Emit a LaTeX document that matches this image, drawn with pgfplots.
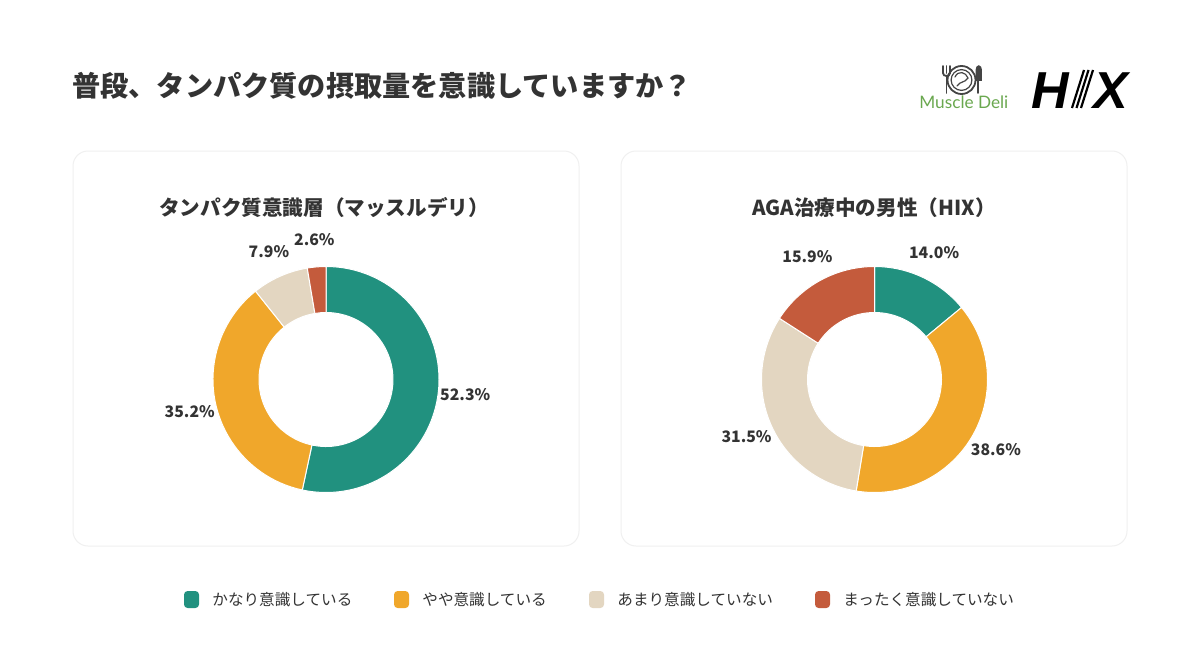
\documentclass[border=0pt]{standalone}
\usepackage{pgfplots}
\pgfplotsset{compat=1.18}
\usepackage{pgfplotstable}
\usepackage{fontspec}
\setmainfont{Noto Sans CJK JP}
\newfontfamily\latinlogo{Lato}
\newfontfamily\hixfont{Liberation Sans}

\definecolor{cTeal}{HTML}{21917F}
\definecolor{cOrange}{HTML}{F0A72B}
\definecolor{cBeige}{HTML}{E3D6C1}
\definecolor{cRed}{HTML}{C45B3C}
\definecolor{txt}{HTML}{333333}
\definecolor{cardline}{HTML}{F0F0F0}
\definecolor{mdgreen}{HTML}{6AA84F}
\definecolor{icon}{HTML}{444444}

% survey shares (percent) for each group
\pgfplotstableread{
answer value color
1 52.3 cTeal
2 35.2 cOrange
3 7.9  cBeige
4 2.6  cRed
}\tabMuscle
\pgfplotstableread{
answer value color
1 14.0 cTeal
2 38.6 cOrange
3 31.5 cBeige
4 15.9 cRed
}\tabHix

\tikzset{
  pct/.style={font=\bfseries\fontsize{7.9pt}{10pt}\selectfont, text=txt, inner sep=0pt},
  sep/.style={draw=white, line width=0.5pt, line join=round},
}

% donut: #1 table, #2 centre x, #3 centre y (axis units, 1 unit = 0.5pt)
% outer radius 113, inner radius 67, labels at radius 140
\newcommand\drawdonut[3]{%
  \pgfplotstablegetrowsof{#1}%
  \pgfmathtruncatemacro\lastrow{\pgfplotsretval-1}%
  \def\tot{0}%
  \pgfplotsforeachungrouped \i in {0,...,\lastrow}{%
    \pgfplotstablegetelem{\i}{value}\of{#1}%
    \pgfmathsetmacro\tot{\tot+\pgfplotsretval}%
  }%
  \def\acc{0}%
  \pgfplotsforeachungrouped \i in {0,...,\lastrow}{%
    \pgfplotstablegetelem{\i}{value}\of{#1}\edef\val{\pgfplotsretval}%
    \pgfplotstablegetelem{\i}{color}\of{#1}\edef\col{\pgfplotsretval}%
    \pgfmathsetmacro\angA{90-360*(\acc/\tot)}%
    \pgfmathsetmacro\angB{90-360*((\acc+\val)/\tot)}%
    \pgfmathsetmacro\angM{(\angA+\angB)/2}%
    \pgfmathsetmacro\oxa{#2+113*cos(\angA)}\pgfmathsetmacro\oya{#3+113*sin(\angA)}%
    \pgfmathsetmacro\ixb{#2+67*cos(\angB)}\pgfmathsetmacro\iyb{#3+67*sin(\angB)}%
    \pgfmathsetmacro\lx{#2+140*cos(\angM)}\pgfmathsetmacro\ly{#3+140*sin(\angM)}%
    \edef\cmd{%
      \noexpand\fill[\col, sep] (axis cs:\oxa,\oya)
        arc[start angle=\angA, end angle=\angB, radius=56.5pt]
        -- (axis cs:\ixb,\iyb)
        arc[start angle=\angB, end angle=\angA, radius=33.5pt] -- cycle;
      \noexpand\node[pct] at (axis cs:\lx,\ly) {\val\noexpand\%};
    }\cmd
    \pgfmathsetmacro\acc{\acc+\val}%
  }%
}

\begin{document}
\begin{tikzpicture}
\begin{axis}[
  x=0.5pt, y=0.5pt,
  xmin=0, xmax=1200, ymin=0, ymax=666,
  hide axis, clip=false,
]
% page background
\fill[white] (axis cs:0,0) rectangle (axis cs:1200,666);

% heading
\node[anchor=west, inner sep=0pt, text=txt,
      font=\bfseries\fontsize{14.1pt}{16pt}\selectfont]
  at (axis cs:72,580) {普段、タンパク質の摂取量を意識していますか？};

% Muscle Deli logo
\begin{scope}[icon, line width=0.9pt, line cap=round]
  \draw (axis cs:943,600) -- (axis cs:943,593);
  \draw (axis cs:946.5,600) -- (axis cs:946.5,593);
  \draw (axis cs:950,600) -- (axis cs:950,593);
  \draw (axis cs:943,593) .. controls (axis cs:943,589) and (axis cs:950,589) .. (axis cs:950,593);
  \draw (axis cs:946.5,590) -- (axis cs:946.5,573);
  \draw (axis cs:961.5,586) circle[radius=7pt];
  \draw[line width=0.6pt] (axis cs:961.5,586) circle[radius=5.2pt];
  \draw[line width=0.6pt] (axis cs:955,589) .. controls (axis cs:958,596) and (axis cs:966,594) .. (axis cs:968,588)
        .. controls (axis cs:965,583) and (axis cs:960,585) .. (axis cs:957,580);
  \draw (axis cs:978,573) -- (axis cs:978,586);
  \draw[fill=icon] (axis cs:976.5,586) -- (axis cs:976.5,596) .. controls (axis cs:976.5,601) and (axis cs:981,601) .. (axis cs:981,596)
        -- (axis cs:981,586) -- cycle;
\end{scope}
\node[anchor=base west, inner sep=0pt, text=mdgreen,
      font=\latinlogo\fontsize{8.6pt}{10pt}\selectfont]
  at (axis cs:919,558) {Muscle Deli};

% HIX logo
\node[anchor=base west, inner sep=0pt, text=black,
      font=\hixfont\bfseries\itshape\fontsize{26pt}{28pt}\selectfont]
  at (axis cs:1031,558) {H};
\node[anchor=base east, inner sep=0pt, text=black,
      font=\hixfont\bfseries\itshape\fontsize{26pt}{28pt}\selectfont]
  at (axis cs:1129,558) {X};
\begin{scope}[black, line width=1.1pt]
  \draw (axis cs:1072,558) -- (axis cs:1084,596);
  \draw (axis cs:1076.5,558) -- (axis cs:1088.5,596);
  \draw (axis cs:1081,558) -- (axis cs:1093,596);
\end{scope}

% cards
\draw[cardline, fill=white, line width=0.5pt, rounded corners=7.5pt]
  (axis cs:73,120) rectangle (axis cs:579,515);
\draw[cardline, fill=white, line width=0.5pt, rounded corners=7.5pt]
  (axis cs:621,120) rectangle (axis cs:1127,515);

% card titles
\node[inner sep=0pt, text=txt, font=\bfseries\fontsize{10.3pt}{12pt}\selectfont]
  at (axis cs:324,458) {タンパク質意識層（マッスルデリ）};
\node[inner sep=0pt, text=txt, font=\bfseries\fontsize{10.3pt}{12pt}\selectfont]
  at (axis cs:874,458) {AGA治療中の男性（HIX）};

% donuts
\drawdonut{\tabMuscle}{326}{286.5}
\drawdonut{\tabHix}{874.5}{286.5}

% legend
\foreach \c/\x/\t in {cTeal/184/かなり意識している, cOrange/394/やや意識している,
                      cBeige/589/あまり意識していない, cRed/815/まったく意識していない}{
  \edef\cmd{%
    \noexpand\fill[\c, rounded corners=1.8pt] (axis cs:\x,58) rectangle (axis cs:\x+15,75);
    \noexpand\node[anchor=west, inner sep=0pt, text=txt,
      font=\noexpand\fontsize{7.8pt}{9pt}\noexpand\selectfont]
      at (axis cs:\x+28,66) {\t};
  }\cmd
}
\end{axis}
\end{tikzpicture}
\end{document}
